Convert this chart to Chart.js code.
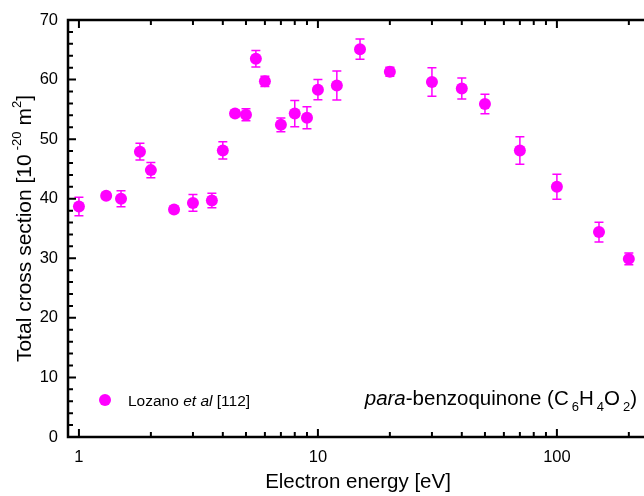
<!DOCTYPE html>
<html><head><meta charset="utf-8">
<script src="https://cdn.jsdelivr.net/npm/chart.js@4/dist/chart.umd.min.js"></script>
<style>html,body{margin:0;padding:0;overflow:hidden;background:#fff}#wrap{width:660px;height:510px}</style>
</head><body><div id="wrap"><canvas id="c" width="660" height="510" style="width:660px;height:510px"></canvas></div>
<script>
const energies = [1.0,1.3,1.5,1.8,2.0,2.5,3.0,3.6,4.0,4.5,5.0,5.5,6.0,7.0,8.0,9.0,10,12,15,20,30,40,50,70,100,150,200];
const crossSections = [38.7,40.5,40.0,47.9,44.8,38.2,39.3,39.7,48.1,54.3,54.1,63.5,59.7,52.4,54.3,53.6,58.3,59.0,65.1,61.3,59.6,58.5,55.9,48.1,42.0,34.4,29.9];
const errors = [1.55,0.5,1.35,1.4,1.3,0.5,1.4,1.2,1.45,0.5,1.0,1.4,0.85,1.15,2.2,1.85,1.7,2.45,1.7,0.75,2.4,1.75,1.65,2.3,2.1,1.65,1.0];
const xMajorTicks = [1,10,100];
const xMinorTicks = [2,3,4,5,6,7,8,9,20,30,40,50,60,70,80,90,200];
const yMajorTicks = [0,10,20,30,40,50,60,70];
const yMinorTicks = [2,4,6,8,12,14,16,18,22,24,26,28,32,34,36,38,42,44,46,48,52,54,56,58,62,64,66,68];

const MAG = '#ff00ff';
const FONT = '"Liberation Sans", Arial, sans-serif';

function drawRuns(ctx, runs, x, y, align) {
  let total = 0;
  runs.forEach(r => { ctx.font = (r.it ? 'italic ' : '') + r.size + 'px ' + FONT; r.w = ctx.measureText(r.t).width + (r.pad || 0); total += r.w; });
  let cx = align === 'center' ? x - total / 2 : (align === 'right' ? x - total : x);
  ctx.textBaseline = 'alphabetic';
  ctx.textAlign = 'left';
  runs.forEach(r => {
    ctx.font = (r.it ? 'italic ' : '') + r.size + 'px ' + FONT;
    ctx.fillText(r.t, cx + (r.pad || 0), y + (r.dy || 0));
    cx += r.w;
  });
}

const decor = {
  id: 'decor',
  beforeDatasetsDraw(chart) {
    const ctx = chart.ctx, xs = chart.scales.x, ys = chart.scales.y;
    ctx.save();
    ctx.strokeStyle = MAG;
    ctx.lineWidth = 1.5;
    for (let i = 0; i < energies.length; i++) {
      const px = xs.getPixelForValue(energies[i]);
      const top = ys.getPixelForValue(crossSections[i] + errors[i]);
      const bot = ys.getPixelForValue(crossSections[i] - errors[i]);
      ctx.beginPath();
      ctx.moveTo(px, top); ctx.lineTo(px, bot);
      ctx.moveTo(px - 4.5, top); ctx.lineTo(px + 4.5, top);
      ctx.moveTo(px - 4.5, bot); ctx.lineTo(px + 4.5, bot);
      ctx.stroke();
    }
    ctx.restore();
  },
  afterDraw(chart) {
    const ctx = chart.ctx, xs = chart.scales.x, ys = chart.scales.y, a = chart.chartArea;
    ctx.save();
    ctx.strokeStyle = '#000';
    ctx.lineWidth = 2;
    ctx.beginPath();
    const xt = (v, len) => { const p = xs.getPixelForValue(v); ctx.moveTo(p, a.bottom); ctx.lineTo(p, a.bottom - len); ctx.moveTo(p, a.top); ctx.lineTo(p, a.top + len); };
    const yt = (v, len) => { const p = ys.getPixelForValue(v); ctx.moveTo(a.left, p); ctx.lineTo(a.left + len, p); ctx.moveTo(a.right, p); ctx.lineTo(a.right - len, p); };
    xMajorTicks.forEach(v => xt(v, 8));
    xMinorTicks.forEach(v => xt(v, 5));
    yMajorTicks.forEach(v => yt(v, 8));
    yMinorTicks.forEach(v => yt(v, 5));
    ctx.stroke();
    ctx.lineWidth = 2.5;
    ctx.strokeRect(a.left, a.top, a.right - a.left, a.bottom - a.top);
    // legend
    ctx.fillStyle = MAG;
    ctx.beginPath(); ctx.arc(105, 400, 6, 0, Math.PI * 2); ctx.fill();
    ctx.fillStyle = '#000';
    drawRuns(ctx, [{t:'Lozano ', size:15.5}, {t:'et al', size:15.5, it:true}, {t:' [112]', size:15.5}], 128, 406, 'left');
    // annotation
    drawRuns(ctx, [
      {t:'para', size:20.5, it:true}, {t:'-benzoquinone (C', size:20.5},
      {t:'6', size:13, dy:6, pad:3}, {t:'H', size:20.5}, {t:'4', size:13, dy:6, pad:3},
      {t:'O', size:20.5}, {t:'2', size:13, dy:6, pad:3}, {t:')', size:20.5}
    ], 637, 405, 'right');
    // x title
    drawRuns(ctx, [{t:'Electron energy [eV]', size:20.5}], (a.left + a.right) / 2 - 2, 488, 'center');
    // y title
    ctx.save();
    ctx.translate(31, (a.top + a.bottom) / 2);
    ctx.rotate(-Math.PI / 2);
    drawRuns(ctx, [
      {t:'Total cross section [10', size:21}, {t:'-20', size:13, dy:-10, pad:4},
      {t:'m', size:21, pad:6}, {t:'2', size:13, dy:-10}, {t:']', size:21}
    ], 0, 0, 'center');
    ctx.restore();
    ctx.restore();
  }
};

new Chart(document.getElementById('c'), {
  type: 'scatter',
  data: {
    datasets: [{
      label: 'Lozano et al [112]',
      data: energies.map((e, i) => ({x: e, y: crossSections[i]})),
      backgroundColor: MAG,
      borderColor: MAG,
      pointRadius: 6,
      pointHoverRadius: 6,
      borderWidth: 0
    }]
  },
  options: {
    responsive: false,
    animation: false,
    devicePixelRatio: 1,
    layout: { padding: { top: 20, right: 8, left: 0, bottom: 0 } },
    plugins: { legend: { display: false }, tooltip: { enabled: false } },
    scales: {
      x: {
        type: 'logarithmic', min: 0.9, max: 250,
        grid: { display: false, drawTicks: false },
        border: { display: false },
        afterBuildTicks: s => { s.ticks = xMajorTicks.map(v => ({value: v})); },
        afterFit: s => { s.height = 73; },
        ticks: { padding: 11, color: '#000', font: { family: FONT, size: 16.5 }, maxRotation: 0, autoSkip: false,
                 callback: v => String(v) }
      },
      y: {
        min: 0, max: 70,
        grid: { display: false, drawTicks: false },
        border: { display: false },
        afterBuildTicks: s => { s.ticks = yMajorTicks.map(v => ({value: v})); },
        afterFit: s => { s.width = 68; },
        ticks: { padding: 10, color: '#000', font: { family: FONT, size: 16.5 } }
      }
    }
  },
  plugins: [decor]
});
</script></body></html>
